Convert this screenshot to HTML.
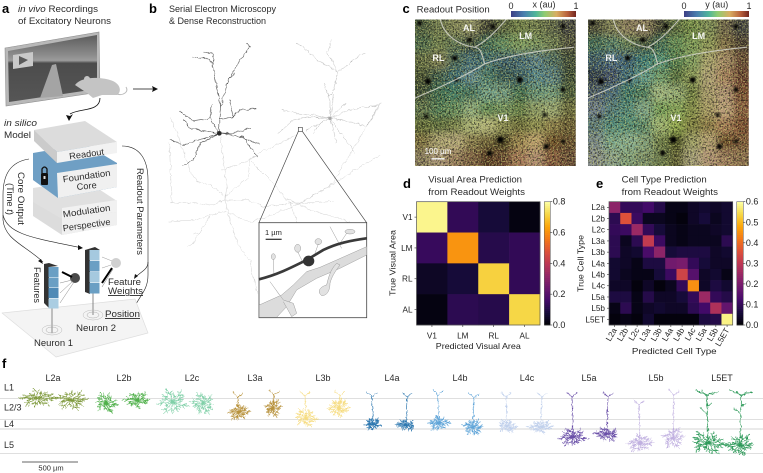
<!DOCTYPE html>
<html lang="en">
<head>
<meta charset="utf-8">
<title>Readout figure</title>
<style>
html,body{margin:0;padding:0;background:#fff;}
svg{display:block;font-family:"Liberation Sans",sans-serif;}
.t{fill:#2b2b2b;font-size:9px;}
.h{fill:#000;font-size:13px;font-weight:bold;}
.k{fill:#222;font-size:8.2px;}
.c{fill:#222;font-size:9px;}
</style>
</head>
<body>
<svg id="fig" xmlns="http://www.w3.org/2000/svg" width="763" height="473" viewBox="0 0 763 473">
<defs>
<linearGradient id="sky" x1="0" y1="0" x2="0" y2="1"><stop offset="0" stop-color="#5c5c5c"/><stop offset=".3" stop-color="#8c8c8c"/><stop offset=".38" stop-color="#9c9c9c"/><stop offset=".42" stop-color="#4c4c4c"/><stop offset="1" stop-color="#565656"/></linearGradient>
<linearGradient id="cbar" x1="0" y1="0" x2="1" y2="0"><stop offset="0" stop-color="#3d3f85"/><stop offset=".2" stop-color="#4a7fae"/><stop offset=".38" stop-color="#4eb59a"/><stop offset=".52" stop-color="#90cc70"/><stop offset=".7" stop-color="#d8ae62"/><stop offset=".87" stop-color="#b8603c"/><stop offset="1" stop-color="#722620"/></linearGradient>
<filter id="blur" x="-10%" y="-10%" width="120%" height="120%"><feGaussianBlur stdDeviation="4"/></filter>
<filter id="blur2" x="-200%" y="-200%" width="500%" height="500%"><feGaussianBlur stdDeviation="3"/></filter>
<filter id="speck-dark" x="0" y="0" width="1" height="1" color-interpolation-filters="sRGB"><feTurbulence type="fractalNoise" baseFrequency="0.55" numOctaves="2" seed="4"/><feColorMatrix values="0 0 0 0 .08  0 0 0 0 .08  0 0 0 0 .06  7 0 0 0 -3.5"/></filter>
<filter id="speck-light" x="0" y="0" width="1" height="1" color-interpolation-filters="sRGB"><feTurbulence type="fractalNoise" baseFrequency="0.75" numOctaves="1" seed="11"/><feColorMatrix values="0 0 0 0 .86  0 0 0 0 .88  0 0 0 0 .5  0 7 0 0 -3.5"/></filter>
<filter id="wiggle" x="-3%" y="-3%" width="106%" height="106%"><feTurbulence type="fractalNoise" baseFrequency="0.07" numOctaves="2" seed="7" result="n"/><feDisplacementMap in="SourceGraphic" in2="n" scale="11" xChannelSelector="R" yChannelSelector="G"/></filter>
<filter id="wiggle-f" x="-2%" y="-5%" width="104%" height="110%"><feTurbulence type="fractalNoise" baseFrequency="0.35" numOctaves="2" seed="5" result="n"/><feDisplacementMap in="SourceGraphic" in2="n" scale="3.2" xChannelSelector="R" yChannelSelector="G"/></filter>
<clipPath id="clip-map-x"><rect x="415" y="19.5" width="160.7" height="146.5"/></clipPath>
<clipPath id="clip-map-y"><rect x="588" y="19.5" width="160.7" height="146.5"/></clipPath>
</defs>

<!-- panel a -->
<g id="panel-a">
<text class="h" x="2" y="13">a</text>
<text class="t" x="18" y="12" textLength="80" lengthAdjust="spacingAndGlyphs"><tspan font-style="italic">in vivo</tspan> Recordings</text>
<text class="t" x="18" y="24" textLength="93" lengthAdjust="spacingAndGlyphs">of Excitatory Neurons</text>
<g>
<polygon points="5,48 99,32 100,92 6,106" fill="#b8b8b8" stroke="#8e8e8e" stroke-width=".6"/>
<polygon points="8,51 97,35 97,89 9,102" fill="url(#sky)"/>
<polygon points="52,65 56,64 63,96 40,98" fill="#a4a4a4"/>
<polygon points="13,55 33,52 33,66 13,69" fill="#c9c9c9"/>
<polygon points="19,56 28,60 19,65" fill="#5a5a5a"/>
</g>
<g>
<path d="M75,85 C82,76 100,77 110,80 C121,83 122,92 117,95 L102,95 L93,98 L87,93 Z" fill="#c4c4c4"/>
<circle cx="87" cy="79" r="3" fill="#c4c4c4"/>
<path d="M117,94 C123,96 129,92 126,87" fill="none" stroke="#bbb" stroke-width="1"/>
</g>
<g><line x1="133" y1="89" x2="153" y2="89" stroke="#111" stroke-width=".8"/><polygon points="158,89 152,86 153,89 152,92" fill="#111"/></g>
<g><path d="M100,98 C100,112 80,108 70,114" fill="none" stroke="#111" stroke-width=".8"/><polygon points="69,121 66,115 70,116 73,114" fill="#111"/></g>
<text class="t" x="4" y="126" font-style="italic" textLength="33" lengthAdjust="spacingAndGlyphs">in silico</text>
<text class="t" x="4" y="138" textLength="27" lengthAdjust="spacingAndGlyphs">Model</text>

<g>
<polygon points="33,200 88,198 117,213 117,225 62,235 33,216" fill="#dcdcdc"/>
<polygon points="62,219 117,212 117,225 62,235" fill="#f0f0f0"/>
</g>
<g>
<polygon points="33,188 85,180 117,201 117,212 62,219 33,202" fill="#e0e0e0"/>
<polygon points="62,208 117,200 117,212 62,219" fill="#f1f1f1"/>
</g>
<g>
<polygon points="33,153 85,144 117,163 117,187 58,198 33,180" fill="#6f9fc4"/>
<polygon points="57,173 117,164 117,187 58,198" fill="#f0f0f0"/>
</g>
<g>
<rect x="41" y="173" width="7" height="12" fill="#111" rx="1"/>
<path d="M42,173 L42,169 Q44.5,165 47,169 L47,173" fill="none" stroke="#111" stroke-width="1.3"/>
<rect x="43.5" y="176" width="2" height="3" fill="#ddd"/>
</g>
<g>
<polygon points="34,130 85,121 117,142 57,152" fill="#dcdcdc"/>
<polygon points="34,130 57,152 57,163 34,141" fill="#cbcbcb"/>
<polygon points="57,152 117,142 117,153 57,163" fill="#f2f2f2"/>
</g>
<text class="t" x="87" y="157" text-anchor="middle" transform="rotate(-8 87 157)" textLength="35" lengthAdjust="spacingAndGlyphs" fill="#444">Readout</text>
<text class="t" x="87" y="179" text-anchor="middle" transform="rotate(-8 87 179)" textLength="48" lengthAdjust="spacingAndGlyphs">Foundation</text>
<text class="t" x="87" y="189" text-anchor="middle" transform="rotate(-6 87 189)" textLength="20" lengthAdjust="spacingAndGlyphs">Core</text>
<text class="t" x="87" y="214" text-anchor="middle" transform="rotate(-8 87 214)" textLength="48" lengthAdjust="spacingAndGlyphs">Modulation</text>
<text class="t" x="87" y="228" text-anchor="middle" transform="rotate(-8 87 228)" textLength="48" lengthAdjust="spacingAndGlyphs">Perspective</text>

<g fill="none" stroke="#222" stroke-width=".6">
<path d="M29,159 C10,162 3,175 3,195 L3,220 C5,240 25,245 43,262"/>
<path d="M3,215 C8,235 35,238 82,248"/>
<path d="M122,146 C140,146 148,160 148,180 L148,275 C148,290 140,295 134,308"/>
<path d="M148,262 C148,270 140,272 136,277"/>
</g>
<g fill="#111">
<polygon points="43,264 38,261 41,259"/><polygon points="83,248 78,245 78,250"/><polygon points="133,310 134,304 137,306"/><polygon points="134,279 135,274 138,276"/>
</g>
<text class="t" transform="translate(18,172) rotate(90)" textLength="53" lengthAdjust="spacingAndGlyphs">Core Output</text>
<text class="t" transform="translate(7,183) rotate(90)" textLength="32" lengthAdjust="spacingAndGlyphs">(Time <tspan font-style="italic">t</tspan>)</text>
<text class="t" transform="translate(137,168) rotate(90)" textLength="87" lengthAdjust="spacingAndGlyphs">Readout Parameters</text>

<polygon points="2,313 135,299 148,333 56,357" fill="#f4f4f4" stroke="#dedede" stroke-width=".7" stroke-linejoin="round"/>
<g>
<line x1="52" y1="308" x2="52" y2="333" stroke="#888" stroke-width="1"/>
<ellipse cx="52" cy="330" rx="10" ry="5" fill="none" stroke="#bbb" stroke-width=".5"/><ellipse cx="52" cy="330" rx="6" ry="3" fill="none" stroke="#aaa" stroke-width=".5"/>
<polygon points="44,264 49,263 58,266 49,267 49,308 44,303" fill="#333"/>
<rect x="48.5" y="267" width="10" height="10" fill="#6a9fc4"/><rect x="48.5" y="277.5" width="10" height="10" fill="#6a9fc4"/><rect x="48.5" y="288" width="10" height="10" fill="#4f8ab6"/><rect x="48.5" y="298.5" width="10" height="10" fill="#aacde2"/>
<circle cx="75" cy="278" r="5" fill="#4a4a4a"/>
<line x1="62" y1="272" x2="72" y2="277" stroke="#000" stroke-width="2"/><line x1="60" y1="283" x2="72" y2="280" stroke="#888" stroke-width=".5"/><line x1="60" y1="293" x2="73" y2="281" stroke="#888" stroke-width=".5"/><line x1="60" y1="303" x2="74" y2="282" stroke="#888" stroke-width=".5"/>
</g>
<g>
<line x1="93" y1="293" x2="93" y2="315" stroke="#888" stroke-width="1"/>
<ellipse cx="93" cy="315" rx="10" ry="5" fill="none" stroke="#bbb" stroke-width=".5"/><ellipse cx="93" cy="315" rx="6" ry="3" fill="none" stroke="#aaa" stroke-width=".5"/>
<polygon points="85,250 95,247 100,250 90,252 90,294 85,292" fill="#333"/>
<rect x="89.5" y="250" width="10" height="10.5" fill="#a5c9df"/><rect x="89.5" y="261" width="10" height="10.5" fill="#6a9fc4"/><rect x="89.5" y="272" width="10" height="10.5" fill="#a5c9df"/><rect x="89.5" y="283" width="10" height="10.5" fill="#6a9fc4"/>
<circle cx="116" cy="263" r="5" fill="#d0d0d0"/>
<line x1="102" y1="257" x2="112" y2="261" stroke="#999" stroke-width=".5"/><line x1="102" y1="268" x2="111" y2="265" stroke="#999" stroke-width=".5"/><line x1="102" y1="283" x2="112" y2="268" stroke="#000" stroke-width="2"/><line x1="102" y1="287" x2="113" y2="269" stroke="#777" stroke-width=".5"/>
</g>
<text class="t" transform="translate(34,267) rotate(90)" textLength="36" lengthAdjust="spacingAndGlyphs">Features</text>
<text class="t" x="108" y="285" textLength="33" lengthAdjust="spacingAndGlyphs">Feature</text>
<text class="t" x="108" y="294" text-decoration="underline" textLength="35" lengthAdjust="spacingAndGlyphs">Weights</text>
<text class="t" x="105" y="317" text-decoration="underline" textLength="35" lengthAdjust="spacingAndGlyphs">Position</text>
<text class="t" x="76" y="331" textLength="40" lengthAdjust="spacingAndGlyphs">Neuron 2</text>
<text class="t" x="34" y="346" textLength="39" lengthAdjust="spacingAndGlyphs">Neuron 1</text>
</g>

<!-- panel b -->
<g id="panel-b">
<text class="h" x="149" y="13">b</text>
<text class="t" x="169" y="12" textLength="107" lengthAdjust="spacingAndGlyphs">Serial Electron Microscopy</text>
<text class="t" x="169" y="24" textLength="97" lengthAdjust="spacingAndGlyphs">&amp; Dense Reconstruction</text>
<g transform="translate(150,30) scale(.3333)" fill="none" stroke-linecap="round" stroke-linejoin="round">
<g filter="url(#wiggle)">
<path stroke="#d2d2d2" stroke-width="1.5" d="M212,320 L218,380 L225,430 L230,470 L226,510 L235,555 L250,600 L262,640 L282,670 L300,692 L310,740 L325,790 M226,510 L180,525 L120,518 L60,520 M228,545 L180,555 L130,570 L55,575 M180,558 L150,605 L130,640 L112,650 M150,608 L130,612 M232,545 L262,560 L300,577 L350,560 L440,525 L520,480 L600,430 L690,375 M228,510 L290,510 L340,530 L420,520 L550,515 M226,500 L262,470 L295,440 L300,385 L322,378 L262,405 L215,420 M60,262 L80,305 L95,350 L125,430 L140,455 L180,465 L222,495 M58,340 L62,430 L65,520 M300,390 L360,450 L420,520 L440,575 M322,370 L380,345 L440,315 M400,500 L480,540 L600,575 M440,525 L540,470 L690,225"/>
<path stroke="#bdbdbd" stroke-width="1.5" d="M540,265 L548,225 L550,180 L565,125 L600,100 L630,75 L645,70 M565,125 L545,90 L530,70 L545,30 M565,125 L500,90 L470,60 L440,40 M540,265 L540,210 L520,160 M535,200 L550,185 M540,265 L490,255 L440,250 L395,240 M540,265 L480,262 L430,270 L385,310 M540,265 L600,240 L690,225 M540,265 L600,275 L650,290 L690,220 M540,265 L580,320 L615,370 M540,265 L550,300 L560,340 M540,265 L500,285 L470,300 M540,265 L570,235 L590,220 M540,265 L510,280 L490,310"/>
<path stroke="#555" stroke-width="1.9" d="M208,310 L208,270 L212,230 L205,190 L200,170 L188,100 L170,85 L130,80 M188,100 L190,70 L160,65 M212,230 L235,150 L255,130 M235,150 L270,90 L298,50 L290,40 M208,310 L180,265 L130,272 L90,245 M180,265 L185,225 M208,265 L250,260 L270,240 L320,235 M250,260 L240,210 M208,310 L150,340 L130,390 L100,408 M208,310 L100,345 L60,328 M208,310 L280,320 L322,382 M208,310 L240,312 L300,295 M208,310 L120,295 L100,270 M270,320 L328,342"/>
</g>
<circle cx="208" cy="310" r="7" fill="#2a2a2a"/>
<circle cx="540" cy="265" r="5" fill="#a5a5a5"/>
<g stroke="#444" stroke-width="2" fill="none">
<rect x="445" y="292" width="12" height="12"/>
<line x1="445" y1="304" x2="327" y2="578"/><line x1="457" y1="304" x2="650" y2="578"/>
</g>
</g>
<g>
<rect x="259" y="222.7" width="107.7" height="95" fill="#fff" stroke="#444" stroke-width=".8"/>
<g transform="translate(150,30) scale(.3333)">
<path d="M650,650 L560,690 L510,712 L470,725 L430,765 L395,795 L328,825 L328,862 L380,862 L410,830 L440,780 L500,745 L570,715 L650,675 Z" fill="#dcdcdc" stroke="#9c9c9c" stroke-width="1.5"/>
<g fill="#e2e2e2" stroke="#9a9a9a" stroke-width="1.5">
<path d="M560,700 C540,720 535,745 530,765 C510,770 500,785 515,797 C535,797 540,775 540,760 C545,740 555,725 570,705 Z"/>
<ellipse cx="443" cy="655" rx="9" ry="12"/><path d="M443,665 L460,700" fill="none"/>
<ellipse cx="505" cy="635" rx="10" ry="9"/><path d="M505,642 L495,670" fill="none"/>
<ellipse cx="370" cy="680" rx="6" ry="9"/><path d="M370,688 L372,735" fill="none"/>
<ellipse cx="600" cy="605" rx="15" ry="7"/><path d="M590,610 L570,640" fill="none"/>
<path d="M540,590 L575,655" fill="none"/>
<path d="M360,755 L400,810 L430,820 L440,850 L425,860 L400,815" />
</g>
<path d="M327,748 C380,735 420,715 470,690 L520,660 C560,640 600,632 650,625" fill="none" stroke="#3a3a3a" stroke-width="8"/>
<ellipse cx="476" cy="693" rx="17" ry="16" fill="#333"/>
<line x1="347" y1="628" x2="395" y2="628" stroke="#000" stroke-width="3"/>
</g>
<text x="265" y="235" style="font-size:7.5px" fill="#222">1 µm</text>
</g>
</g>

<!-- panel c -->
<g id="panel-c">
<text class="h" x="402.5" y="13">c</text>
<text class="t" x="416.7" y="12.7" textLength="73" lengthAdjust="spacingAndGlyphs">Readout Position</text>
<rect x="511" y="11" width="65" height="6" fill="url(#cbar)"/>
<rect x="684" y="11" width="65" height="6" fill="url(#cbar)"/>
<text class="t" x="511" y="9" text-anchor="middle">0</text>
<text class="t" x="544" y="7.5" text-anchor="middle">x (au)</text>
<text class="t" x="576" y="9" text-anchor="middle">1</text>
<text class="t" x="684" y="9" text-anchor="middle">0</text>
<text class="t" x="716.7" y="7.5" text-anchor="middle">y (au)</text>
<text class="t" x="749" y="9" text-anchor="middle">1</text>
<g id="map-x" clip-path="url(#clip-map-x)"></g>
<g id="map-y" clip-path="url(#clip-map-y)"></g>
</g>

<g id="panel-d">
<text class="h" x="403" y="188">d</text>
<text class="t" x="428.3" y="182.7" textLength="93.7" lengthAdjust="spacingAndGlyphs">Visual Area Prediction</text>
<text class="t" x="428.3" y="195" textLength="96.7" lengthAdjust="spacingAndGlyphs">from Readout Weights</text>
<text class="k" x="478.3" y="349" text-anchor="middle" textLength="85" lengthAdjust="spacingAndGlyphs">Predicted Visual Area</text>
<text class="k" transform="translate(395.5,296) rotate(-90)" textLength="66" lengthAdjust="spacingAndGlyphs">True Visual Area</text>
</g>
<g id="panel-e">
<text class="h" x="596" y="188">e</text>
<text class="t" x="621.7" y="182.7" textLength="85" lengthAdjust="spacingAndGlyphs">Cell Type Prediction</text>
<text class="t" x="621.7" y="195" textLength="96.3" lengthAdjust="spacingAndGlyphs">from Readout Weights</text>
<text class="k" x="674.3" y="354" text-anchor="middle" textLength="84.7" lengthAdjust="spacingAndGlyphs">Predicted Cell Type</text>
<text class="k" transform="translate(583.5,292) rotate(-90)" textLength="57" lengthAdjust="spacingAndGlyphs">True Cell Type</text>
</g>

<!-- panel f -->
<g id="panel-f">
<text class="h" x="2" y="368">f</text>
<line x1="0" y1="398.3" x2="763" y2="398.3" stroke="#ccc" stroke-width=".7"/>
<line x1="0" y1="419.7" x2="763" y2="419.7" stroke="#ccc" stroke-width=".7"/>
<line x1="0" y1="429" x2="763" y2="429" stroke="#ddd" stroke-width="1.2"/>
<line x1="0" y1="453.3" x2="763" y2="453.3" stroke="#ccc" stroke-width=".7"/>
<text class="t" x="4" y="390.7">L1</text>
<text class="t" x="4" y="410.7">L2/3</text>
<text class="t" x="4" y="427">L4</text>
<text class="t" x="4" y="448">L5</text>
<line x1="22" y1="462" x2="78" y2="462" stroke="#333" stroke-width=".8"/>
<text class="t" x="51" y="470.7" text-anchor="middle" style="font-size:7.5px">500 µm</text>
<g id="morphologies" filter="url(#wiggle-f)"></g>
<g id="column-labels"></g>
</g>

<script>
// ---- panel d data ----
var areaLabels = ['V1','LM','RL','AL'];
var areaValues = [
 [0.78,0.13,0.08,0.02],
 [0.14,0.61,0.11,0.13],
 [0.05,0.08,0.71,0.13],
 [0.02,0.12,0.11,0.72]
];
var areaTicks = [0.0,0.2,0.4,0.6,0.8];
// ---- panel e data ----
var typeLabels = ['L2a','L2b','L2c','L3a','L3b','L4a','L4b','L4c','L5a','L5b','L5ET'];
var typeValues = [
 [0.23,0.10,0.10,0.12,0.08,0.02,0.02,0.04,0.05,0.04,0.05],
 [0.09,0.36,0.11,0.03,0.03,0.02,0.01,0.04,0.06,0.03,0.05],
 [0.10,0.11,0.25,0.10,0.06,0.03,0.02,0.03,0.03,0.04,0.05],
 [0.09,0.03,0.09,0.31,0.11,0.03,0.02,0.03,0.03,0.03,0.09],
 [0.09,0.04,0.05,0.13,0.23,0.06,0.07,0.07,0.07,0.04,0.05],
 [0.05,0.04,0.02,0.07,0.07,0.19,0.20,0.10,0.06,0.04,0.04],
 [0.05,0.03,0.02,0.02,0.06,0.11,0.33,0.15,0.04,0.05,0.02],
 [0.04,0.04,0.01,0.04,0.01,0.03,0.10,0.45,0.04,0.07,0.05],
 [0.07,0.07,0.02,0.08,0.04,0.04,0.06,0.10,0.25,0.10,0.08],
 [0.02,0.09,0.02,0.04,0.05,0.04,0.04,0.09,0.12,0.28,0.17],
 [0.01,0.02,0.01,0.05,0.01,0.01,0.01,0.01,0.07,0.08,0.58]
];
var typeTicks = [0.0,0.1,0.2,0.3,0.4,0.5,0.6];
// ---- panel c coarse colours ----
var mapXColors = [
 ['#4a5a40','#6a7650','#7d8058','#8a8a68','#3a3a30','#55603f','#6a7a4a','#6d7a50','#5a6248','#444444'],
 ['#4c6a50','#6a7a50','#5a7055','#3a4a3c','#3f6a58','#5f8a62','#7a9a62','#749060','#6a7a55','#4a4a3c'],
 ['#606a45','#7a7a55','#4a6a60','#3e6878','#3d6a72','#3c6070','#40687a','#567e8c','#4a6a68','#3c4a3a'],
 ['#454f35','#3a5a50','#3a6a74','#5f8a96','#4a7a70','#35595a','#3c6068','#4f808c','#56808a','#3a4a38'],
 ['#404f3a','#3a6a55','#3f7a68','#41705e','#70a090','#6f9a86','#3d6a50','#62907a','#6f9a80','#4a5a3c'],
 ['#5a7050','#4f7a58','#608a60','#8aa880','#608a58','#6f9060','#5f7a4a','#8a9a68','#9aa878','#6a6a40'],
 ['#5f6a3a','#5a6a3e','#6f7a48','#a8b078','#b8b880','#8a8a52','#6a6a3a','#8a8a50','#8a7a4a','#6a5a34'],
 ['#7a6a40','#b0a478','#b8a880','#8a7a50','#6a5a34','#4a4020','#9a8050','#c0a070','#6a4a28','#6a5030'],
 ['#8a7a64','#a8917a','#9a7a60','#7a5a42','#5a3a28','#6a4630','#a8785a','#b08a72','#8a5a40','#6a4a38']
];
var mapYColors = [
 ['#4a4a3a','#7a7a58','#8a7a60','#8a7a62','#3a3a30','#55683f','#6f8a4a','#7a8a58','#6a5e48','#444444'],
 ['#3f6a5c','#4f7a6a','#5f7a58','#3f4f3c','#3f6a58','#5f8a58','#7a9a5a','#8a9458','#7f6a4a','#4a3a30'],
 ['#3a5a70','#4a6a8a','#3a6078','#3a7a7a','#4a8a78','#4f7a50','#7a9a60','#a8a070','#a88a6a','#6a4a38'],
 ['#2f3a50','#3f5070','#3a6a80','#5f9a90','#6a9a70','#4f6a3e','#8a9a5a','#b0a07a','#a88060','#6a4030'],
 ['#4a5a70','#4a6a80','#3f7a70','#4a7a60','#a0b888','#90a878','#6a7a40','#a89870','#b09078','#7a4a30'],
 ['#6a7a90','#4f7a80','#4f8a80','#80a890','#6f9a58','#80a058','#808a4a','#a89868','#c0a080','#8a5a40'],
 ['#5a7a80','#508a80','#508a78','#5a8a70','#a0b878','#90a850','#7a7a40','#907a4a','#a87a58','#7a4a30'],
 ['#7a8a90','#7aa890','#88b098','#80a080','#6a7a48','#4a5024','#9a9a68','#b8a078','#6a4a28','#80583a'],
 ['#8a9090','#8aa090','#80a080','#7a9070','#6a7a50','#5a5a30','#a8a080','#b09078','#a07a60','#8a6a50']
];
var NS = 'http://www.w3.org/2000/svg';
function mk(parent, tag, attrs, txt){
  var e = document.createElementNS(NS, tag);
  for (var k in attrs) e.setAttribute(k, attrs[k]);
  if (txt !== undefined) e.textContent = txt;
  parent.appendChild(e);
  return e;
}
// inferno colormap
var infernoStops = ['#000004','#160b39','#420a68','#6a176e','#932667','#bc3754','#dd513a','#f37819','#fca50a','#f6d746','#fcffa4'];
function inferno(t){
  t = Math.max(0, Math.min(1, t)) * (infernoStops.length - 1);
  var i = Math.min(Math.floor(t), infernoStops.length - 2), f = t - i;
  var a = parseInt(infernoStops[i].slice(1), 16), b = parseInt(infernoStops[i+1].slice(1), 16);
  var c = [16, 8, 0].map(function(s){ return Math.round(((a >> s) & 255) * (1 - f) + ((b >> s) & 255) * f); });
  return 'rgb(' + c.join(',') + ')';
}
function heatmap(root, prefix, labels, values, ticks, box, bar, rotate){
  var n = labels.length, cw = box.w / n, ch = box.h / n, vmax = ticks[ticks.length - 1];
  function xs(i){ return box.x + i * cw; }
  function ys(i){ return box.y + i * ch; }
  values.forEach(function(row, r){
    row.forEach(function(v, c){
      var cell = mk(root, 'rect', {x: xs(c), y: ys(r), width: cw + .3, height: ch + .3, fill: inferno(v / vmax)});
      
      
    });
  });
  var frame = mk(root, 'rect', {x: box.x, y: box.y, width: box.w, height: box.h, fill: 'none', stroke: '#555', 'stroke-width': .7});
  
  
  labels.forEach(function(l, i){
    var yc = ys(i) + ch / 2, xc = xs(i) + cw / 2;
    var t1 = mk(root, 'line', {x1: box.x - 2, x2: box.x, y1: yc, y2: yc, stroke: '#333', 'stroke-width': .6});
    
    
    var t2 = mk(root, 'line', {x1: xc, x2: xc, y1: box.y + box.h, y2: box.y + box.h + 2, stroke: '#333', 'stroke-width': .6});
    
    
    var yl = mk(root, 'text', {x: box.x - 4, y: yc + 2.9, 'text-anchor': 'end', 'class': 'k'}, l);
    
    
    var xl;
    if (rotate) {
      xl = mk(root, 'text', {'text-anchor': 'end', 'class': 'k', transform: 'translate(' + (xc + 2.5) + ',' + (box.y + box.h + 5) + ') rotate(-60)'}, l);
    } else {
      xl = mk(root, 'text', {x: xc, y: box.y + box.h + 13.5, 'text-anchor': 'middle', 'class': 'k'}, l);
    }
    
    
  });
  // colorbar
  var steps = 60;
  for (var s = 0; s < steps; s++) {
    var seg = mk(root, 'rect', {x: bar.x, y: bar.y + bar.h - (s + 1) * bar.h / steps, width: bar.w, height: bar.h / steps + .4, fill: inferno((s + .5) / steps)});
    
    
  }
  var bf = mk(root, 'rect', {x: bar.x, y: bar.y, width: bar.w, height: bar.h, fill: 'none', stroke: '#555', 'stroke-width': .5});
  
  
  ticks.forEach(function(v){
    var y = bar.y + bar.h - v / vmax * bar.h;
    var tk = mk(root, 'line', {x1: bar.x + bar.w, x2: bar.x + bar.w + 2, y1: y, y2: y, stroke: '#333', 'stroke-width': .6});
    
    
    var tl = mk(root, 'text', {x: bar.x + bar.w + 2.6, y: y + 3, 'class': 'c'}, v.toFixed(1));
    
    
  });
}
heatmap(document.getElementById('panel-d'), 'area', areaLabels, areaValues, areaTicks,
  {x: 416.5, y: 201.7, w: 123.5, h: 123.3}, {x: 544.3, y: 201.7, w: 6, h: 123.3}, false);
heatmap(document.getElementById('panel-e'), 'type', typeLabels, typeValues, typeTicks,
  {x: 609, y: 201.7, w: 123.7, h: 123.3}, {x: 736.7, y: 201.7, w: 6.6, h: 123.3}, true);

// ---- panel c maps ----
var vesselSpots = [[45,195,9],[125,125,8],[262,370,10],[170,70,7],[320,190,9],[395,295,6],[40,300,6],[230,410,8],[400,390,8],[450,375,6],[450,220,7],[20,20,7],[240,30,7],[130,190,6],[450,30,7]];
var mapLabels = [['AL',168,43],['LM',338,67],['RL',76,134],['V1',270,313]];
function drawMap(id, ox, colors){
  var g = document.getElementById(id);
  var bg = mk(g, 'rect', {x: ox, y: 19.5, width: 160.7, height: 146.5, fill: '#666'});
  
  
  var blur = mk(g, 'g', {filter: 'url(#blur)'});
  
  
  var cw = 160.7 / 10, ch = 146.5 / 9;
  colors.forEach(function(row, r){
    row.forEach(function(col, c){
      var x = ox + c * cw, y = 19.5 + r * ch, w = cw + .5, h = ch + .5;
      if (c === 0) { x -= 14; w += 14; }
      if (c === 9) { w += 14; }
      if (r === 0) { y -= 14; h += 14; }
      if (r === 8) { h += 14; }
      var cell = mk(blur, 'rect', {x: x, y: y, width: w, height: h, fill: col});
      
      
    });
  });
  var sd = mk(g, 'rect', {x: ox, y: 19.5, width: 160.7, height: 146.5, filter: 'url(#speck-dark)', opacity: .6});
  
  
  var sl = mk(g, 'rect', {x: ox, y: 19.5, width: 160.7, height: 146.5, filter: 'url(#speck-light)', opacity: .5});
  
  
  var ov = mk(g, 'g', {transform: 'translate(' + (ox - 2) + ',16.5) scale(.3333)'});
  
  
  vesselSpots.forEach(function(s){
    var sp = mk(ov, 'circle', {cx: s[0], cy: s[1], r: s[2], fill: '#000', filter: 'url(#blur2)'});
    
    
  });
  var b = mk(ov, 'path', {d: 'M82,8 C90,50 130,85 185,92 C205,95 205,110 215,142 M185,92 C210,80 245,50 280,8 M215,142 C290,115 400,100 483,92 M215,142 C170,170 90,210 5,245', fill: 'none', stroke: '#d8d8d0', 'stroke-opacity': .8, 'stroke-width': 3.6});
  
  
  mapLabels.forEach(function(l){
    var t = mk(ov, 'text', {x: l[1], y: l[2], 'text-anchor': 'middle', fill: '#fff', 'font-weight': 'bold', 'font-size': 27, 'fill-opacity': .92}, l[0]);
    
    
  });
}
drawMap('map-x', 415, mapXColors);
drawMap('map-y', 588, mapYColors);
(function(){
  var ov = document.querySelector('#map-x g[transform]');
  var t = mk(ov, 'text', {x: 75, y: 412, 'text-anchor': 'middle', fill: '#fff', 'font-size': 24}, '100 µm');
  
  
  var l = mk(ov, 'line', {x1: 55, x2: 95, y1: 427, y2: 427, stroke: '#fff', 'stroke-width': 4});
  
  
})();

// ---- panel f ----
var typeColumnNames = ['L2a','L2b','L2c','L3a','L3b','L4a','L4b','L4c','L5a','L5b','L5ET'];
var typeColumnCenters = [53,124,192,255,323,392,460,527,589,656,722];
var typeColumnColors = ['#7f9a3c','#4fb04a','#80d0a8','#b8923c','#f6dc80','#2f78b0','#5ea4d8','#c0d0ec','#6a50a8','#c0b0e0','#2f9a5a'];
var cellTypeIndex = [0,0,1,1,2,2,3,3,4,4,5,5,6,6,7,7,8,8,9,9,10,10];
var somaX = [38,71,106,137,173,203,239,273,306,339,373,406,439,473,507,541,573,607,640,673,708,740];
var somaY = [398,400,403,400,402,403,412,408,418,408,424,425,423,427,426,427,437,434,443,438,443,445];
var halfW = [20,20,13,14,19,14,12,11,13,12,10,11,12,13,11,14,18,14,15,14,20,15];
var halfH = [11,11,12,10,14,13,10,10,11,12,7,7,9,9,8,8,10,8,11,12,14,13];
var apicalTop = [0,0,0,0,0,0,392,390,391,391,392,392,390,393,392,392,392,392,400,390,391,391];
var branchAngles = [0,25,50,75,100,130,155,180,205,230,255,285,310,335];
var branchScale = [1,.55,.85,.6,.8,1,.65,.95,.7,.5,.9,.6,.75,.85];
var morph = document.getElementById('morphologies');
var labelGroup = document.getElementById('column-labels');
somaX.forEach(function(x, i){
  var ti = cellTypeIndex[i], col = typeColumnColors[ti];
  var y = somaY[i], hw = halfW[i], hh = halfH[i], d = '';
  branchAngles.forEach(function(a, j){
    var s = branchScale[(j + i * 3) % branchScale.length];
    var rad = (a + i * 17) * Math.PI / 180;
    var ex = x + Math.cos(rad) * hw * s, ey = y + Math.sin(rad) * hh * s;
    var mx = x + Math.cos(rad + .15) * hw * s * .55, my = y + Math.sin(rad + .15) * hh * s * .55;
    d += 'M' + x + ',' + y + 'L' + mx.toFixed(1) + ',' + my.toFixed(1) + 'L' + ex.toFixed(1) + ',' + ey.toFixed(1);
    var fx = mx + Math.cos(rad - .6) * hw * s * .35, fy = my + Math.sin(rad - .6) * hh * s * .35;
    d += 'M' + mx.toFixed(1) + ',' + my.toFixed(1) + 'L' + fx.toFixed(1) + ',' + fy.toFixed(1);
    var gx = mx + Math.cos(rad + .7) * hw * s * .3, gy = my + Math.sin(rad + .7) * hh * s * .3;
    d += 'M' + mx.toFixed(1) + ',' + my.toFixed(1) + 'L' + gx.toFixed(1) + ',' + gy.toFixed(1);
  });
  var top = apicalTop[i];
  if (top) {
    var tx = x + (i % 2 ? 1 : -1);
    d += 'M' + x + ',' + y + 'L' + tx + ',' + (top + 5) + 'M' + tx + ',' + (top + 5) + 'L' + (tx - 5) + ',' + top + 'M' + tx + ',' + (top + 5) + 'L' + (tx + 5) + ',' + (top + 1);
    if (ti === 10) {
      d += 'M' + tx + ',' + (top + 4) + 'L' + (tx - 11) + ',' + (top - 1) + 'M' + tx + ',' + (top + 4) + 'L' + (tx + 12) + ',' + (top + 1) + 'M' + (tx - 1) + ',' + (top + 22) + 'L' + (tx - 7) + ',' + (top + 17) + 'M' + tx + ',' + (top + 15) + 'L' + (tx + 5) + ',' + (top + 12);
    }
  }
  var p = mk(morph, 'path', {d: d, fill: 'none', stroke: col, 'stroke-width': ti === 10 ? .8 : .7, 'stroke-linecap': 'round'});
  
  
});
typeColumnNames.forEach(function(n, i){
  var t = mk(labelGroup, 'text', {x: typeColumnCenters[i], y: 381, 'text-anchor': 'middle', 'class': 't'}, n);
  
  
});
</script>
</svg>
</body>
</html>
